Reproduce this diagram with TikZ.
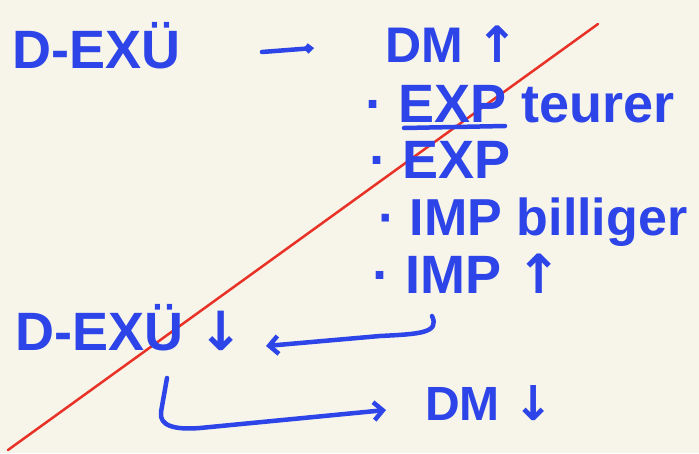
\documentclass[tikz,border=0pt]{standalone}
\usepackage{fontspec}
\setmainfont{Liberation Sans}
\newfontfamily\arr{DejaVu Sans}
\usetikzlibrary{arrows.meta}
\definecolor{paper}{RGB}{247,245,234}
\definecolor{ink}{RGB}{44,68,232}
\definecolor{redink}{RGB}{232,50,40}
\begin{document}
\begin{tikzpicture}[x=1pt,y=-1pt,
  hand/.style={text=ink,inner sep=0pt,anchor=base west,font=\bfseries\fontsize{54}{60}\selectfont},
  pen/.style={draw=ink,line width=4.5pt,line cap=round,line join=round},
  tip/.style={-{Straight Barb[length=9pt,width=18pt]}},
  smalltip/.style={-{Straight Barb[length=4pt,width=7pt]}}]
\fill[paper] (0,0) rectangle (699,453);
\useasboundingbox (0,0) rectangle (699,453);
% red diagonal stroke
\draw[redink,line width=2.5pt,line cap=round] (8,450) -- (598,24);
% text
\node[hand] (dexuA) at (12,68) {D-EXÜ};
\node[hand,font=\bfseries\fontsize{50}{60}\selectfont] (dmA) at (385,62) {DM {\arr ↑}};
\node[hand] (exp1) at (365,122) {· EXP teurer};
\node[hand] (exp2) at (369,178) {· EXP};
\node[hand,font=\bfseries\fontsize{52}{60}\selectfont] (imp1) at (378,235) {· IMP billiger};
\node[hand] (imp2) at (372,293) {· IMP {\arr ↑}};
\node[hand] (dexuB) at (15,350) {D-EXÜ {\arr ↓}};
\node[hand,font=\bfseries\fontsize{48}{60}\selectfont] (dmB) at (425,420) {DM {\arr ↓}};
% underline of first EXP
\draw[pen] (404,128) -- (505,126);
% connectors
\coordinate (a1s) at (262,52);
\coordinate (a1e) at (314,48);
\draw[pen,smalltip] (a1s) -- (a1e);
\coordinate (b1s) at (432,316);
\coordinate (b1e) at (266,346);
\draw[pen,tip] (b1s) .. controls (440,333) and (420,334) .. (380,336) -- (b1e);
\coordinate (c1s) at (167,378);
\coordinate (c1e) at (386,410);
\draw[pen,tip] (c1s) -- (161,412) .. controls (159,426) and (175,430) .. (200,428) -- (c1e);
\end{tikzpicture}
\end{document}
